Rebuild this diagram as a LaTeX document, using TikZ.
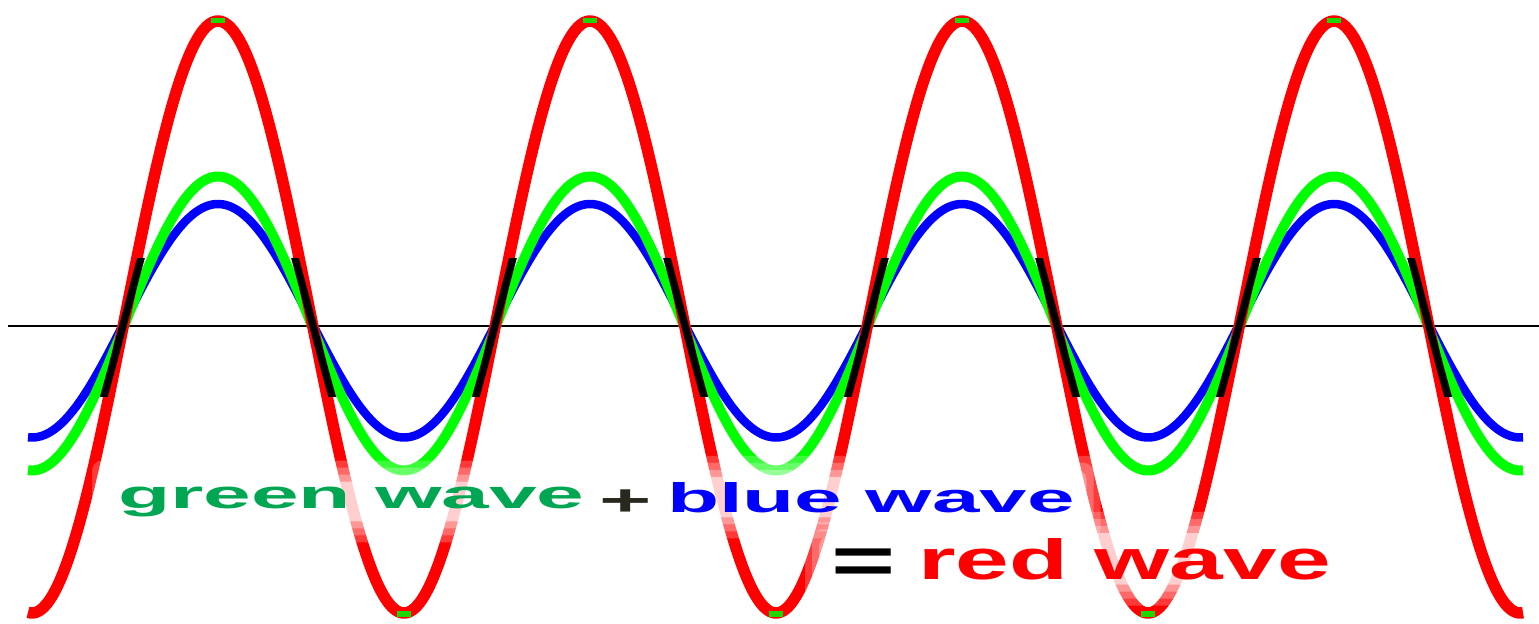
\documentclass[tikz,border=0pt]{standalone}
\usepackage{fontspec}
\setmainfont{Liberation Sans}
\usepackage{graphicx}
\definecolor{wavered}{RGB}{255,0,0}
\definecolor{wavegreen}{RGB}{0,255,0}
\definecolor{waveblue}{RGB}{0,0,255}
\definecolor{txtgreen}{RGB}{0,166,81}
\definecolor{txtplus}{RGB}{40,40,30}
\definecolor{halocol}{RGB}{255,255,255}
\definecolor{spotgreen}{RGB}{30,215,0}
\pgfdeclarelayer{wavesL}
\pgfdeclarelayer{haloL}
\pgfsetlayers{wavesL,haloL,main}
\begin{document}
\begin{tikzpicture}[x=1bp,y=-1bp,
  wave/.style={line width=#1, line join=round},
  halo/.style={fill=halocol, opacity=#1, rounded corners=10bp},
  lbl/.style={inner sep=0pt, outer sep=0pt, font=\fontsize{40}{40}\selectfont\bfseries}]
\useasboundingbox (0,0) rectangle (1539,624);
\begin{pgfonlayer}{wavesL}
\fill[white] (0,0) rectangle (1539,624);
% axis
\coordinate (axL) at (8,326);
\coordinate (axR) at (1539,326);
\draw[line width=1.8bp] (axL) -- (axR);
% waves
\draw[wave=8.5bp, waveblue] plot[domain=28:1523, samples=600]
  (\x,{320.75-116.75*cos((\x-218)*0.967742)});
\draw[wave=10bp, wavegreen] plot[domain=28:1523, samples=600]
  (\x,{323.5-147*cos((\x-218)*0.967742)});
\draw[wave=11.5bp, wavered] plot[domain=28:1523, samples=700]
  (\x,{317-296*cos((\x-218)*0.967742)});
% green spots in the red peaks and troughs
\foreach \p in {218,590,962,1334}{\fill[spotgreen] (\p-7,18) rectangle (\p+7,23);}
\foreach \t in {404,776,1148}{\fill[spotgreen] (\t-7,611) rectangle (\t+7,617);}
% black overlap near the crossings
\begin{scope}
\clip (0,258) rectangle (1539,396);
\draw[wave=7.5bp, black] plot[domain=28:1523, samples=700]
  (\x,{318-225*cos((\x-218)*0.967742)});
\end{scope}
\end{pgfonlayer}
% labels
\node[lbl, anchor=base west, text=txtgreen] (tgreen) at (118,508) {\scalebox{2.15}[1.0]{green wave}};
\node[lbl, anchor=base, text=txtplus] (tplus) at (626,515) {\scalebox{2.25}[1.1]{+}};
\node[lbl, anchor=base west, text=waveblue] (tblue) at (667,512) {\scalebox{2.14}[1.04]{blue wave}};
\node[lbl, anchor=base west, text=black] (teq) at (831,583) {\scalebox{2.76}[1.67]{=}};
\node[lbl, anchor=base west, text=wavered] (tred) at (918,579) {\scalebox{2.42}[1.42]{red wave}};
% soft white glow behind the labels
\begin{pgfonlayer}{haloL}
\foreach \n in {tgreen,tplus,tblue,teq,tred}{
  \foreach \d/\o in {26/0.22,19/0.25,12/0.3,5/0.55}{
    \fill[halo=\o] ([xshift=-\d bp,yshift=-\d bp]\n.south west)
      rectangle ([xshift=\d bp,yshift=\d bp]\n.north east);
  }
}
\end{pgfonlayer}
\end{tikzpicture}
\end{document}
